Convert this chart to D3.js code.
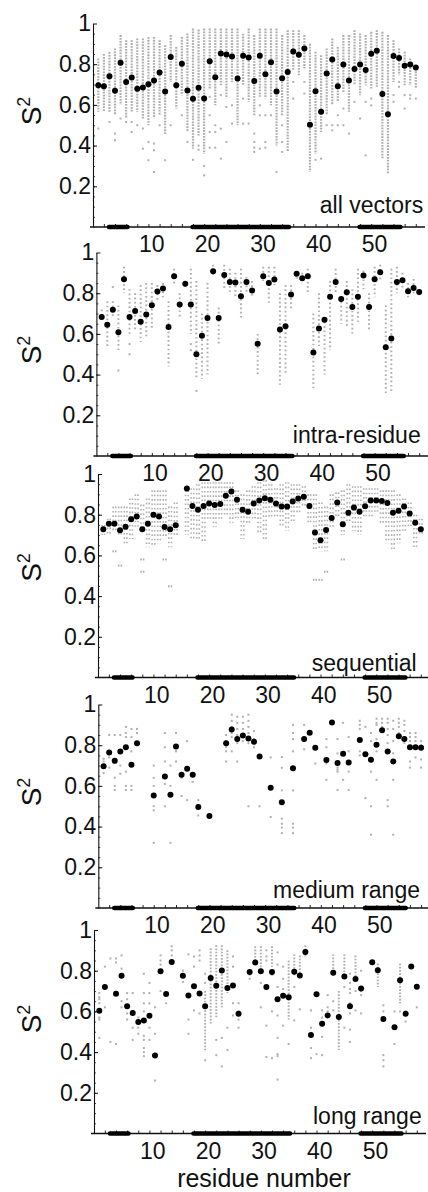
<!DOCTYPE html>
<html><head><meta charset="utf-8">
<script src="https://cdn.jsdelivr.net/npm/d3@7"></script>
<style>
html,body{margin:0;padding:0;background:#fff;}
svg{display:block;font-family:"Liberation Sans",Arial,Helvetica,sans-serif;}
</style></head><body>
<svg id="c" width="428" height="1192"></svg>
<script>
// ---------------- data ----------------
const residues = [1,2,3,4,5,6,7,8,9,10,11,12,13,14,15,16,17,18,19,20,21,22,23,24,25,26,27,28,29,30,
  31,32,33,34,35,36,37,38,39,40,41,42,43,44,45,46,47,48,49,50,51,52,53,54,55,56,57,58];
const xTickValues = [10,20,30,40,50];
const yTickValues = [0.2,0.4,0.6,0.8,1];
const yTickLabels = ["0.2","0.4","0.6","0.8","1"];
const panelNames = ["all vectors","intra-residue","sequential","medium range","long range"];
const xTitle = "residue number";
const secondary = [[3,6],[18,35],[48,55]];

// panel 1: all vectors
const allMean = [0.697,0.692,0.741,0.669,0.807,0.712,0.735,0.679,0.686,0.702,
  0.72,0.759,0.666,0.835,0.697,0.802,0.671,0.63,0.684,0.632,
  0.815,0.736,0.853,0.848,0.838,0.73,0.841,0.833,0.717,0.841,
  0.751,0.809,0.666,0.731,0.762,0.863,0.846,0.877,0.503,0.667,
  0.566,0.754,0.823,0.692,0.799,0.72,0.776,0.799,0.771,0.851,
  0.866,0.653,0.554,0.84,0.831,0.792,0.799,0.784];
const allLo = [0.566,0.566,0.566,0.549,0.60,0.533,0.566,0.566,0.533,0.50,
  0.533,0.549,0.451,0.713,0.582,0.648,0.467,0.385,0.45,0.36,
  0.68,0.598,0.697,0.631,0.713,0.50,0.697,0.615,0.549,0.64,
  0.631,0.598,0.40,0.549,0.369,0.77,0.746,0.779,0.27,0.36,
  0.467,0.549,0.598,0.615,0.664,0.566,0.697,0.648,0.697,0.68,
  0.689,0.336,0.262,0.713,0.746,0.697,0.697,0.68];
const allHi = [0.828,0.85,0.86,0.877,0.943,0.918,0.918,0.926,0.926,0.934,
  0.934,0.918,0.893,0.943,0.885,0.934,0.951,0.975,0.97,0.975,
  0.975,0.975,0.975,0.975,0.975,0.975,0.95,0.975,0.943,0.975,
  0.975,0.975,0.975,0.943,0.967,0.967,0.967,0.943,0.90,0.861,
  0.844,0.877,0.926,0.885,0.943,0.943,0.967,0.951,0.943,0.959,
  0.967,0.959,0.943,0.918,0.877,0.861,0.828,0.779];
const allExtra = [[1,[0.484]],[3,[0.516]],[4,[0.459,0.426]],[5,[0.533]],[6,[0.516]],[7,[0.516,0.467]],
  [8,[0.5]],[9,[0.484,0.385]],[10,[0.418,0.328]],[11,[0.41,0.377,0.27]],[12,[0.5]],[13,[0.328]],
  [14,[0.5]],[16,[0.549]],[17,[0.418]],[18,[0.33]],[19,[0.40,0.38]],[20,[0.30,0.254]],
  [21,[0.64,0.549,0.467,0.39]],[22,[0.5,0.467,0.39]],[23,[0.648,0.483,0.336]],[24,[0.59,0.418]],
  [25,[0.598,0.508]],[27,[0.631,0.508]],[28,[0.508]],[29,[0.459,0.418,0.39,0.369]],
  [30,[0.598,0.549,0.385]],[31,[0.549,0.418,0.39]],[32,[0.549]],[33,[0.27]],[34,[0.5,0.418,0.369]],
  [36,[0.713,0.631]],[38,[0.713,0.656]],[40,[0.33]],[41,[0.336]],[42,[0.5]],[43,[0.5,0.475]],
  [44,[0.549,0.5]],[45,[0.582,0.5]],[46,[0.459]],[47,[0.615]],[48,[0.533]],[49,[0.615,0.352]],
  [50,[0.631,0.598]],[54,[0.648,0.615]],[55,[0.713,0.689]],[56,[0.648,0.582]],[57,[0.648,0.631]],[58,[0.631]]];

// panel 2: intra-residue
const intraMean = [0.683,0.645,0.719,0.608,0.869,0.683,0.713,0.660,0.695,0.741,
  0.808,0.823,0.634,0.883,0.744,0.847,0.744,0.50,0.591,0.678,
  0.908,0.678,0.89,0.855,0.852,0.785,0.855,0.813,0.552,0.883,
  0.85,0.867,0.622,0.637,0.793,0.895,0.873,0.883,0.509,0.626,
  0.67,0.782,0.855,0.772,0.805,0.732,0.783,0.887,0.732,0.869,
  0.903,0.534,0.578,0.855,0.864,0.81,0.826,0.806];
const intraLo = [0.66,0.54,0.68,0.52,0.80,0.60,0.62,0.56,0.58,0.62,
  0.76,0.78,0.44,0.84,0.68,0.82,0.60,0.38,0.38,0.40,
  0.88,0.55,0.82,0.80,0.78,0.68,0.80,0.78,0.40,0.86,
  0.74,0.84,0.35,0.40,0.72,0.86,0.86,0.80,0.32,0.54,
  0.40,0.52,0.80,0.65,0.64,0.60,0.66,0.82,0.62,0.78,
  0.86,0.31,0.31,0.80,0.82,0.78,0.80,0.78];
const intraHi = [0.72,0.76,0.76,0.74,0.93,0.82,0.80,0.84,0.85,0.85,
  0.84,0.85,0.76,0.92,0.80,0.86,0.92,0.86,0.70,0.85,
  0.94,0.73,0.94,0.92,0.90,0.92,0.88,0.86,0.60,0.93,
  0.93,0.93,0.80,0.84,0.84,0.90,0.90,0.92,0.70,0.80,
  0.68,0.86,0.92,0.78,0.86,0.82,0.92,0.91,0.80,0.93,
  0.94,0.74,0.92,0.93,0.90,0.85,0.87,0.82];
const intraExtra = [[3,[0.83]],[4,[0.42]],[6,[0.55,0.50]],[17,[0.55,0.52]],[18,[0.32]]];

// panel 3: sequential
const seqMean = [0.728,0.756,0.756,0.723,0.741,0.778,0.791,0.728,0.755,0.80,
  0.791,0.74,0.728,0.748,null,0.929,0.843,0.824,0.843,0.855,
  0.848,0.853,0.893,0.914,0.873,0.824,0.815,0.855,0.87,0.881,
  0.873,0.855,0.84,0.84,0.865,0.88,0.888,0.843,0.712,0.675,
  0.725,0.784,0.86,0.753,0.81,0.835,0.815,0.842,0.87,0.87,
  0.867,0.857,0.81,0.819,0.84,0.806,0.761,0.728];
const seqLo = [0.70,0.70,0.72,0.70,0.66,0.68,0.74,0.72,0.64,0.64,
  0.66,0.68,0.64,0.70,null,0.70,0.68,0.67,0.66,0.78,
  0.74,0.78,0.80,0.76,0.77,0.68,0.76,0.78,0.70,0.68,
  0.78,0.78,0.74,0.72,0.76,0.80,0.84,0.76,0.62,0.62,
  0.62,0.74,0.78,0.70,0.76,0.72,0.70,0.78,0.78,0.80,
  0.76,0.66,0.62,0.66,0.72,0.74,0.64,0.70];
const seqHi = [0.75,0.78,0.84,0.84,0.84,0.88,0.90,0.85,0.88,0.92,
  0.92,0.92,0.84,0.86,null,0.92,0.93,0.95,0.96,0.96,
  0.96,0.96,0.96,0.96,0.92,0.90,0.92,0.94,0.96,0.97,
  0.95,0.93,0.95,0.96,0.95,0.95,0.94,0.90,0.90,0.86,
  0.84,0.90,0.91,0.92,0.95,0.94,0.94,0.93,0.93,0.93,
  0.92,0.92,0.92,0.90,0.88,0.86,0.80,0.78];
const seqExtra = [[3,[0.62]],[4,[0.55]],[8,[0.58,0.52]],[12,[0.58]],[13,[0.448]],
  [39,[0.48]],[40,[0.48]],[41,[0.52]],[44,[0.58]]];

// panel 4: medium range
const medMean = [0.697,0.764,0.723,0.769,0.79,0.704,0.81,null,null,0.553,
  null,0.646,0.556,0.794,0.655,0.684,0.655,0.496,null,0.452,
  null,null,0.81,0.877,0.831,0.848,0.833,0.817,0.745,null,
  0.591,null,0.52,null,0.687,null,0.83,0.861,0.787,null,
  0.727,0.912,0.712,0.758,0.715,null,0.825,0.755,0.728,0.802,
  0.874,0.769,0.72,0.844,0.83,0.79,0.79,0.787];
const medExtra = [[1,[0.733,0.72,0.663]],[2,[0.85,0.74,0.69]],[3,[0.85,0.64,0.60,0.58]],[4,[0.85,0.70,0.66]],
  [5,[0.89,0.86,0.84,0.67,0.60,0.58]],[6,[0.88,0.84,0.77,0.60,0.58]],[7,[0.88,0.86]],
  [10,[0.70,0.64,0.60,0.50,0.48,0.32]],[12,[0.86,0.79,0.72,0.61,0.50]],[13,[0.70,0.60,0.32]],
  [14,[0.86,0.77,0.72]],[15,[0.64,0.55]],[16,[0.82,0.53]],[17,[0.62]],[18,[0.53,0.455]],
  [23,[0.85,0.82,0.79,0.77,0.72]],[24,[0.95,0.92,0.89,0.86,0.84,0.77]],[25,[0.94,0.91,0.88,0.85,0.81,0.72]],
  [26,[0.94,0.91,0.88,0.85,0.82]],[27,[0.95,0.92,0.89,0.86,0.81,0.50]],[28,[0.87,0.83,0.79]],[29,[0.50]],
  [31,[0.74,0.447]],[33,[0.742,0.689,0.578,0.439,0.414,0.395,0.368]],
  [35,[0.90,0.86,0.83,0.77,0.578,0.414,0.395,0.368]],[37,[0.90,0.78]],[39,[0.71]],
  [41,[0.83,0.79,0.71,0.63]],[43,[0.83,0.76,0.69,0.68,0.67,0.58]],[44,[0.91,0.63]],[45,[0.84,0.77,0.67,0.58]],
  [47,[0.92,0.90,0.88,0.77,0.75]],[48,[0.89,0.54]],[49,[0.86,0.82,0.72,0.67,0.50,0.36]],
  [50,[0.93,0.91,0.90,0.83,0.77,0.63]],[51,[0.93,0.91,0.89,0.87]],[52,[0.93,0.91,0.88,0.85,0.81,0.53,0.50]],
  [53,[0.92,0.88,0.82,0.76,0.63,0.36]],[54,[0.93,0.91,0.89,0.86]],[55,[0.92,0.90,0.87,0.81]],
  [56,[0.86,0.84,0.82,0.79,0.72,0.69]],[57,[0.86,0.84,0.82,0.79,0.74]],[58,[0.82,0.80,0.79,0.73,0.69]]];

// panel 5: long range
const longMean = [0.603,0.72,null,0.687,0.775,0.625,0.592,0.548,0.555,0.579,
  0.383,0.797,0.685,0.843,null,0.775,0.678,0.723,0.688,0.625,
  0.764,0.726,0.801,0.715,0.727,0.589,null,0.793,0.84,0.797,
  0.72,0.793,0.66,0.677,0.67,0.795,0.777,0.892,0.484,0.684,
  0.539,0.58,0.79,0.572,0.772,0.625,0.759,0.712,null,0.842,
  0.802,0.563,null,0.522,0.753,0.588,0.821,0.721];
const longLo = [null,null,null,null,null,null,null,null,null,null,
  null,null,null,null,null,null,null,null,null,0.40,
  0.54,0.57,0.62,0.69,null,null,null,null,0.83,0.80,
  null,0.82,null,null,0.56,0.77,0.79,0.87,null,null,
  null,null,0.77,0.41,0.77,null,0.77,null,null,null,
  0.72,null,null,null,0.64,null,null,null];
const longHi = [null,null,null,null,null,null,null,null,null,null,
  null,null,null,null,null,null,null,null,null,0.70,
  0.91,0.925,0.925,0.90,null,null,null,null,0.92,0.92,
  null,0.92,null,null,0.85,0.88,0.875,0.925,null,null,
  null,null,0.88,0.70,0.88,null,0.875,null,null,null,
  0.835,null,null,null,0.835,null,null,null];
const longExtra = [[1,[0.69,0.67,0.66,0.64,0.57,0.56,0.47]],[2,[0.82,0.62]],[3,[0.86,0.45]],[4,[0.86,0.84,0.44]],
  [5,[0.875,0.81,0.78,0.65,0.62]],[6,[0.69,0.66,0.62,0.59,0.56]],[7,[0.69,0.60,0.52,0.46]],[8,[0.57,0.52,0.49]],
  [9,[0.785,0.69,0.64,0.60,0.56,0.48,0.46,0.42,0.40,0.38]],[10,[0.74,0.69,0.64,0.52,0.46]],[11,[0.62,0.49,0.26]],
  [12,[0.875,0.85,0.83,0.70]],[13,[0.69,0.64]],[14,[0.92,0.90,0.875]],[16,[0.80,0.745]],[17,[0.88,0.56,0.49]],
  [18,[0.87,0.82,0.605]],[19,[0.90,0.875,0.85,0.69,0.59]],[20,[0.785,0.74,0.36]],[22,[0.46,0.385]],
  [23,[0.47,0.33]],[24,[0.52,0.41]],[25,[0.87,0.82,0.64,0.58]],[26,[0.64,0.60,0.56,0.52]],[28,[0.78,0.76]],
  [30,[0.74,0.62]],[31,[0.90,0.87,0.85,0.53,0.376]],[32,[0.78,0.60,0.37]],
  [33,[0.89,0.83,0.72,0.58,0.47,0.39,0.38,0.265]],[34,[0.82,0.76,0.71,0.53]],[35,[0.44]],[36,[0.72,0.556]],
  [37,[0.61]],[39,[0.605,0.52,0.42,0.37]],[40,[0.69,0.39]],[41,[0.605,0.57,0.475,0.385]],
  [42,[0.68,0.62,0.60,0.58]],[43,[0.65,0.605]],[45,[0.72,0.52]],[46,[0.785,0.74,0.71,0.69,0.64,0.59,0.51,0.45]],
  [47,[0.70,0.605]],[48,[0.80,0.70,0.68,0.59]],[50,[0.835]],[52,[0.63,0.60,0.385,0.36,0.33]],
  [54,[0.60,0.52,0.44]],[55,[0.60]],[56,[0.60,0.55]],[57,[0.82]],[58,[0.62]]];

// ---------------- layout ----------------
const L = {
  zeroY: [227, 456, 677.5, 908, 1133.5],
  unit: 203.5,
  x1: [98.3, 101.7, 103.3, 103.6, 99.3],
  step: 5.57,
  nameDy: [-13.7, -12.7, -7, -9.7, -10],
  nameRight: [423.3, 420.7, 416.7, 420, 421.7],
  sDy: [-116, -106, -110, -116, -114.5]
};
const GREY = "#b0b0b0";
const FONT = 23;

const panels = [
  {name: panelNames[0], mean: allMean, lo: allLo, hi: allHi, extra: allExtra, dash: "1.8,1.1", pair: false, w: 2.2},
  {name: panelNames[1], mean: intraMean, lo: intraLo, hi: intraHi, extra: intraExtra, dash: "1.7,2.6", pair: false, w: 2},
  {name: panelNames[2], mean: seqMean, lo: seqLo, hi: seqHi, extra: seqExtra, dash: "1.6,2.8", pair: true, w: 1.6},
  {name: panelNames[3], mean: medMean, lo: null, hi: null, extra: medExtra, dash: "1.7,1.6", pair: false, w: 2},
  {name: panelNames[4], mean: longMean, lo: longLo, hi: longHi, extra: longExtra, dash: "1.7,1.5", pair: false, w: 2}
];

const svg = d3.select("#c");

panels.forEach((p, i) => {
  const x = d3.scaleLinear().domain([1, 58]).range([L.x1[i], L.x1[i] + 57 * L.step]);
  const y = d3.scaleLinear().domain([0, 1]).range([L.zeroY[i], L.zeroY[i] - L.unit]);
  const axisX = L.x1[i] - 5.3;
  const g = svg.append("g");

  // grey ranges
  if (p.lo) {
    const offs = p.pair ? [-1.3, 1.3] : [0];
    residues.forEach((r, k) => {
      if (p.lo[k] == null || p.hi[k] == null) return;
      offs.forEach(o => {
        g.append("line")
          .attr("x1", x(r) + o).attr("x2", x(r) + o)
          .attr("y1", y(p.hi[k])).attr("y2", y(p.lo[k]))
          .attr("stroke", GREY).attr("stroke-width", p.w)
          .attr("stroke-dasharray", p.dash);
      });
    });
  }
  // grey individual points
  const pts = [];
  p.extra.forEach(([r, vals]) => vals.forEach(v => pts.push([r, v])));
  const offs2 = p.pair ? [-1.3, 1.3] : [0];
  offs2.forEach(o => {
    g.selectAll(null).data(pts).enter().append("rect")
      .attr("x", d => x(d[0]) + o - (p.pair ? 0.8 : 1))
      .attr("y", d => y(d[1]) - 1)
      .attr("width", p.pair ? 1.6 : 2).attr("height", 2)
      .attr("fill", GREY);
  });

  // y axis
  const yMinor = d3.range(1, 20).map(k => k * 0.05);
  const ya2 = g.append("g").attr("transform", `translate(${axisX},0)`)
    .call(d3.axisLeft(y).tickValues(yMinor).tickSize(-2).tickSizeOuter(0).tickFormat(""));
  ya2.select(".domain").remove();
  ya2.selectAll("line").attr("stroke", "#222").attr("stroke-width", 0.8);
  const ya = g.append("g").attr("transform", `translate(${axisX},0)`)
    .call(d3.axisLeft(y).tickValues(yTickValues).tickSize(-4).tickSizeOuter(0).tickPadding(2)
      .tickFormat((d, j) => yTickLabels[j]));
  ya.select(".domain").attr("stroke", "#111").attr("stroke-width", 1.1);
  ya.selectAll("line").attr("stroke", "#111").attr("stroke-width", 1);
  ya.selectAll("text").attr("font-size", FONT).attr("fill", "#111")
    .attr("font-family", '"Liberation Sans",Arial,sans-serif');

  // x axis
  const xMinor = d3.range(2, 59, 2);
  const xa = g.append("g").attr("transform", `translate(0,${L.zeroY[i]})`)
    .call(d3.axisBottom(x).tickValues(xMinor).tickSize(-3).tickSizeOuter(0).tickFormat(""));
  xa.select(".domain").remove();
  xa.selectAll("line").attr("stroke", "#111").attr("stroke-width", 0.9);
  g.append("line")
    .attr("x1", axisX - 3).attr("x2", L.x1[i] + 326.7)
    .attr("y1", L.zeroY[i]).attr("y2", L.zeroY[i])
    .attr("stroke", "#111").attr("stroke-width", 1.3);
  g.selectAll(null).data(xTickValues).enter().append("text")
    .attr("x", d => x(d) + 3.3).attr("y", L.zeroY[i] + 25)
    .attr("text-anchor", "middle").attr("font-size", FONT).attr("fill", "#111")
    .text(d => d);

  // secondary structure bars
  g.selectAll(null).data(secondary).enter().append("line")
    .attr("x1", d => x(d[0] - 0.45) + 2).attr("x2", d => x(d[1] + 0.6) - 2)
    .attr("y1", L.zeroY[i]).attr("y2", L.zeroY[i])
    .attr("stroke", "#000").attr("stroke-width", 4.5).attr("stroke-linecap", "round");

  // mean points
  const m = residues.map((r, k) => [r, p.mean[k]]).filter(d => d[1] != null);
  g.selectAll(null).data(m).enter().append("circle")
    .attr("cx", d => x(d[0])).attr("cy", d => y(d[1])).attr("r", 3).attr("fill", "#000");

  // panel name
  g.append("text").attr("x", L.nameRight[i]).attr("y", L.zeroY[i] + L.nameDy[i])
    .attr("text-anchor", "end").attr("font-size", FONT).attr("fill", "#111").text(p.name);

  // S^2 label
  const sy = L.zeroY[i] + L.sDy[i];
  const st = g.append("text").attr("transform", `translate(41,${sy}) rotate(-90)`)
    .attr("text-anchor", "middle").attr("fill", "#111");
  st.append("tspan").attr("font-size", 28).text("S");
  st.append("tspan").attr("font-size", 18).attr("dy", -11).text("2");
});

svg.append("text").attr("x", 264).attr("y", 1187).attr("text-anchor", "middle")
  .attr("font-size", 25).attr("fill", "#111").text(xTitle);
</script>
</body></html>
